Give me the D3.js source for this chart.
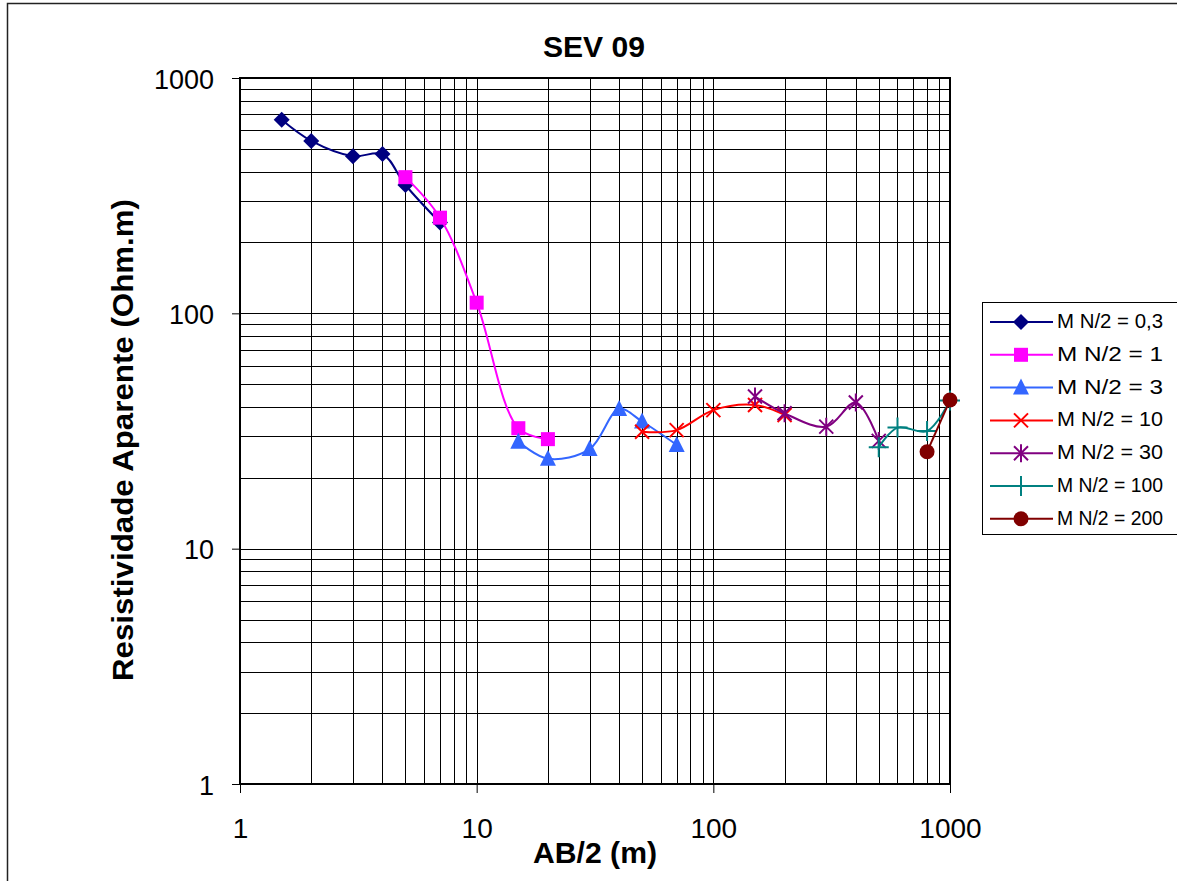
<!DOCTYPE html>
<html><head><meta charset="utf-8">
<script src="https://cdn.jsdelivr.net/npm/d3@7"></script>
<style>body{margin:0;background:#fff;} svg{display:block;font-family:"Liberation Sans",Arial,sans-serif;}</style>
</head><body>
<script>
const title = "SEV 09";
const xTitle = "AB/2 (m)";
const yTitle = "Resistividade Aparente (Ohm.m)";
const tickValues = [1, 10, 100, 1000];
const seriesNames = ["M N/2 = 0,3","M N/2 = 1","M N/2 = 3","M N/2 = 10","M N/2 = 30","M N/2 = 100","M N/2 = 200"];
const seriesColors = ["#000080","#FF00FF","#3366FF","#FF0000","#800080","#008080","#800000"];
const seriesMarkers = ["diamond","square","triangle","x","asterisk","plus","circle"];
const x03 = [1.5, 2, 3, 4, 5, 7];
const y03 = [664, 540, 465, 475, 351, 243];
const x1 = [5, 7, 10, 15, 20];
const y1 = [379, 255, 111, 32.5, 29.2];
const x3 = [15, 20, 30, 40, 50, 70];
const y3 = [28.5, 24.1, 26.5, 39.2, 34.7, 27.6];
const x10 = [50, 70, 100, 150, 200];
const y10 = [31.4, 31.9, 38.8, 40.8, 37];
const x30 = [150, 200, 300, 400, 500];
const y30 = [44.3, 37.6, 33, 41.8, 28.7];
const x100 = [500, 600, 800, 1000];
const y100 = [27, 32.7, 31.6, 42.6];
const x200 = [800, 1000];
const y200 = [25.8, 42.8];

const seriesX = [x03, x1, x3, x10, x30, x100, x200];
const seriesY = [y03, y1, y3, y10, y30, y100, y200];

const W = 1177, H = 881;
const pL = 240, pR = 950, pT = 78, pB = 784;
const svg = d3.select("body").append("svg").attr("width", W).attr("height", H);

svg.append("rect").attr("x", 7.5).attr("y", 3.5).attr("width", 1200).attr("height", 900)
  .attr("fill", "#fff").attr("stroke", "#222").attr("stroke-width", 1.5);

const x = d3.scaleLog().domain([1, 1000]).range([pL, pR]);
const y = d3.scaleLog().domain([1, 1000]).range([pB, pT]);

// grid
const minor = [];
for (let d = 1; d < 1000; d *= 10) for (let k = 1; k <= 10; k++) minor.push(d * k);
const gridVals = Array.from(new Set(minor));
const g = svg.append("g");
g.selectAll("line.vx").data(gridVals).join("line")
  .attr("x1", d => Math.round(x(d)) + 0.5).attr("x2", d => Math.round(x(d)) + 0.5)
  .attr("y1", pT).attr("y2", pB).attr("stroke", "#000").attr("stroke-width", 1);
g.selectAll("line.hy").data(gridVals).join("line")
  .attr("y1", d => Math.round(y(d)) + 0.5).attr("y2", d => Math.round(y(d)) + 0.5)
  .attr("x1", pL).attr("x2", pR).attr("stroke", "#000").attr("stroke-width", 1);

svg.append("rect").attr("x", pL).attr("y", pT).attr("width", pR - pL).attr("height", pB - pT)
  .attr("fill", "none").attr("stroke", "#000").attr("stroke-width", 2);

// axes
const xAxis = d3.axisBottom(x).tickValues(tickValues).tickFormat(d3.format("d")).tickSize(9);
const gx = svg.append("g").attr("transform", `translate(0,${pB})`).call(xAxis);
gx.select(".domain").remove();
gx.selectAll("line").attr("stroke", "#000").attr("stroke-width", 1);
gx.selectAll("text").attr("font-size", 28).attr("fill", "#000").attr("font-family", "Liberation Sans, Arial")
  .attr("y", 54).attr("dy", 0);

const yAxis = d3.axisLeft(y).tickValues(tickValues).tickFormat(d3.format("d")).tickSize(8);
const gy = svg.append("g").attr("transform", `translate(${pL},0)`).call(yAxis);
gy.select(".domain").remove();
gy.selectAll("line").attr("stroke", "#000").attr("stroke-width", 1);
gy.selectAll("text").attr("font-size", 27).attr("fill", "#000").attr("font-family", "Liberation Sans, Arial")
  .attr("x", -26).attr("dy", 10);

// titles
svg.append("text").attr("x", 594).attr("y", 57).attr("text-anchor", "middle")
  .attr("font-size", 30).attr("font-weight", "bold")
  .attr("textLength", 102).attr("lengthAdjust", "spacingAndGlyphs").text(title);
svg.append("text").attr("x", 595).attr("y", 863).attr("text-anchor", "middle")
  .attr("font-size", 29).attr("font-weight", "bold")
  .attr("textLength", 124).attr("lengthAdjust", "spacingAndGlyphs").text(xTitle);
svg.append("text").attr("transform", `translate(133,440) rotate(-90)`).attr("text-anchor", "middle")
  .attr("font-size", 29).attr("font-weight", "bold")
  .attr("textLength", 482).attr("lengthAdjust", "spacingAndGlyphs").text(yTitle);

function drawMarker(sel, type, color) {
  if (type === "diamond") sel.append("path").attr("d", "M0,-8L8,0L0,8L-8,0Z").attr("fill", color);
  else if (type === "square") sel.append("rect").attr("x", -7).attr("y", -7).attr("width", 14).attr("height", 14).attr("fill", color);
  else if (type === "triangle") sel.append("path").attr("d", "M0,-9L8,7L-8,7Z").attr("fill", color);
  else if (type === "x") sel.append("path").attr("d", "M-7,-7L7,7M-7,7L7,-7").attr("stroke", color).attr("stroke-width", 2).attr("fill", "none");
  else if (type === "asterisk") sel.append("path").attr("d", "M-7,-7L7,7M-7,7L7,-7M0,-9L0,9").attr("stroke", color).attr("stroke-width", 2).attr("fill", "none");
  else if (type === "plus") sel.append("path").attr("d", "M-10,0L10,0M0,-10L0,10").attr("stroke", color).attr("stroke-width", 2).attr("fill", "none");
  else if (type === "circle") sel.append("circle").attr("r", 7.5).attr("fill", color);
}

const line = d3.line().x(d => x(d[0])).y(d => y(d[1])).curve(d3.curveCatmullRom.alpha(0.5));
seriesX.forEach((xs, i) => {
  const pts = xs.map((v, j) => [v, seriesY[i][j]]);
  svg.append("path").attr("d", line(pts)).attr("fill", "none")
    .attr("stroke", seriesColors[i]).attr("stroke-width", 2);
  pts.forEach(p => {
    const m = svg.append("g").attr("transform", `translate(${x(p[0])},${y(p[1])})`);
    drawMarker(m, seriesMarkers[i], seriesColors[i]);
  });
});

// legend
const lg = svg.append("g");
lg.append("rect").attr("x", 982.5).attr("y", 302.5).attr("width", 200).attr("height", 232)
  .attr("fill", "#fff").attr("stroke", "#000").attr("stroke-width", 1);
seriesNames.forEach((name, i) => {
  const yy = 322 + i * 32.8;
  lg.append("line").attr("x1", 990).attr("x2", 1053).attr("y1", yy).attr("y2", yy)
    .attr("stroke", seriesColors[i]).attr("stroke-width", 2);
  const m = lg.append("g").attr("transform", `translate(1021,${yy})`);
  drawMarker(m, seriesMarkers[i], seriesColors[i]);
  lg.append("text").attr("x", 1057).attr("y", yy + 6).attr("font-size", 20)
    .attr("textLength", 106).attr("lengthAdjust", "spacingAndGlyphs").text(name);
});
</script>
</body></html>
